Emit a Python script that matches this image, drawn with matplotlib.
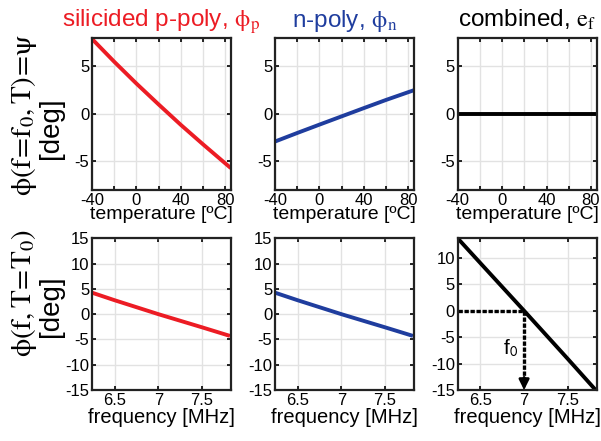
import matplotlib.pyplot as plt
import numpy as np

plt.rcParams['font.family'] = ['Liberation Sans', 'DejaVu Sans']
plt.rcParams['mathtext.fontset'] = 'stix'
plt.rcParams['axes.unicode_minus'] = False

RED = '#ec1c24'
BLUE = '#1f3d9e'

# temperature sweep (f = f0)
temp = [-40, -20, 0, 20, 40, 60, 85]
psi_p = [7.9, 5.5, 3.2, 1.0, -1.15, -3.2, -5.7]
psi_n = [-2.9, -2.0, -1.12, -0.25, 0.62, 1.48, 2.5]
psi_comb = [0, 0, 0, 0, 0, 0, 0]

# frequency sweep (T = T0)
freq = [6.24, 6.5, 7.0, 7.5, 7.82]
phi_p = [4.25, 2.75, 0.0, -2.6, -4.3]
phi_n = [4.25, 2.75, 0.0, -2.6, -4.3]
phi_comb = [13.7, 9.0, 0.0, -9.1, -15.0]
f0 = 7.0

titles = [r'silicided p-poly, $\mathrm{\phi_p}$', r'n-poly, $\mathrm{\phi_n}$',
          r'combined, $\mathrm{e_f}$']
colors = [RED, BLUE, 'black']

fig = plt.figure(figsize=(6.01, 4.41), dpi=100)
lefts = [0.1531, 0.4576, 0.7616]
w = 0.2310
top_ax = [fig.add_axes([l, 0.5692, w, 0.3447]) for l in lefts]
bot_ax = [fig.add_axes([l, 0.1156, w, 0.3440]) for l in lefts]


def style(ax):
    ax.grid(True, color='#e2e2e2', linewidth=1.0)
    ax.set_axisbelow(True)
    for s in ax.spines.values():
        s.set_linewidth(1.6)
        s.set_color('#222222')
    ax.tick_params(direction='in', top=True, right=True, length=3, width=1.2,
                   labelsize=12, pad=2)


for ax, y, c, t in zip(top_ax, [psi_p, psi_n, psi_comb], colors, titles):
    ax.plot(temp, y, color=c, linewidth=2.8, solid_capstyle='butt')
    ax.set_xlim(-40, 85)
    ax.set_ylim(-8, 8)
    ax.set_xticks([-40, -20, 0, 20, 40, 60, 80])
    ax.set_xticklabels(['-40', '', '0', '', '40', '', '80'])
    ax.set_yticks([-5, 0, 5])
    ax.set_xlabel('temperature [ºC]', fontsize=14, labelpad=-1)
    ax.set_title(t, color=c, fontsize=17.5, pad=8)
    style(ax)

for ax, y, c in zip(bot_ax, [phi_p, phi_n, phi_comb], colors):
    ax.plot(freq, y, color=c, linewidth=2.8, solid_capstyle='butt')
    ax.set_xlim(6.24, 7.83)
    ax.set_xticks([6.5, 7, 7.5])
    ax.set_xticklabels(['6.5', '7', '7.5'])
    ax.set_xlabel('frequency [MHz]', fontsize=14.5, labelpad=0)
    style(ax)

for ax in bot_ax[:2]:
    ax.set_ylim(-15, 15)
    ax.set_yticks([-15, -10, -5, 0, 5, 10, 15])

ax = bot_ax[2]
ax.set_ylim(-15, 13.7)
ax.set_yticks([-15, -10, -5, 0, 5, 10])
dots = (0, (1.3, 0.5))
ax.plot([6.24, f0], [0, 0], color='black', linestyle=dots, linewidth=2.4)
ax.plot([f0, f0], [0, -12.8], color='black', linestyle=dots, linewidth=2.4)
ax.annotate('', xy=(f0, -15), xytext=(f0, -12.6),
            arrowprops=dict(arrowstyle='-|>', color='black', linewidth=2.0,
                            mutation_scale=15, shrinkA=0, shrinkB=0))
ax.text(6.84, -7.0, r'f$_\mathsf{0}$', fontsize=15, ha='center', va='center')

fig.text(0.04, 0.74, r'$\mathrm{\phi(f\!=\!f_0,T)\!=\!\psi}$', rotation=90,
         fontsize=21, ha='center', va='center')
fig.text(0.085, 0.71, '[deg]', rotation=90, fontsize=20, ha='center', va='center')
fig.text(0.04, 0.335, r'$\mathrm{\phi(f,T\!=\!T_0)}$', rotation=90,
         fontsize=21, ha='center', va='center')
fig.text(0.085, 0.305, '[deg]', rotation=90, fontsize=20, ha='center', va='center')

fig.savefig('out.png', dpi=100)
